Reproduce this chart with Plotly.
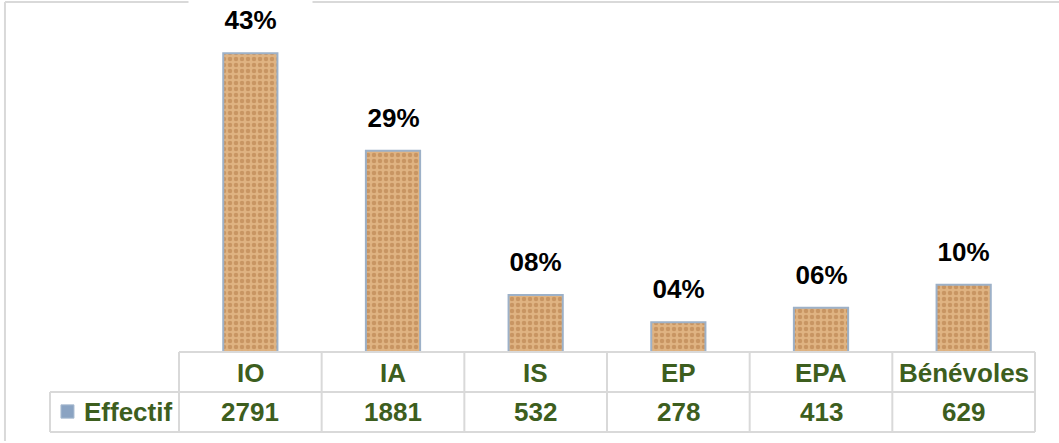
import plotly.graph_objects as go

categories = ["IO", "IA", "IS", "EP", "EPA", "Bénévoles"]
effectif = [2791, 1881, 532, 278, 413, 629]
pct_labels = ["43%", "29%", "08%", "04%", "06%", "10%"]
series_name = "Effectif"

GREEN = "#3D5E1E"
GRID = "#D9D9D9"
FONT = "Liberation Sans, Arial, sans-serif"

fig = go.Figure()

fig.add_trace(go.Bar(
    x=categories,
    y=effectif,
    name=series_name,
    marker=dict(
        color="#DCAE7C",
        line=dict(color="#9DB1C8", width=2),
        pattern=dict(shape=".", fgcolor="#B27743", bgcolor="#DFB382",
                     size=6, solidity=0.45),
    ),
    hovertemplate="%{x}: %{y}<extra></extra>",
))

# percentage labels above the bars
for cat, val, lab in zip(categories, effectif, pct_labels):
    fig.add_annotation(
        x=cat, y=val, text=f"<b>{lab}</b>", showarrow=False,
        yanchor="middle", yshift=33, width=121, height=40,
        bgcolor="white", font=dict(family=FONT, size=26, color="black"),
    )

# data table under the plot
n = len(categories)
row_top, row_mid, row_bot = 0.0, -0.1143, -0.2286
label_left = -0.1507
shapes = []
line = dict(color=GRID, width=2)
shapes.append(dict(type="line", xref="paper", yref="paper", x0=0, x1=1, y0=row_top, y1=row_top, line=line))
shapes.append(dict(type="line", xref="paper", yref="paper", x0=label_left, x1=1, y0=row_mid, y1=row_mid, line=line))
shapes.append(dict(type="line", xref="paper", yref="paper", x0=label_left, x1=1, y0=row_bot, y1=row_bot, line=line))
shapes.append(dict(type="line", xref="paper", yref="paper", x0=label_left, x1=label_left, y0=row_mid, y1=row_bot, line=line))
for i in range(n + 1):
    shapes.append(dict(type="line", xref="paper", yref="paper", x0=i / n, x1=i / n,
                       y0=row_top, y1=row_bot, line=line))
# legend key
shapes.append(dict(type="rect", xref="paper", yref="paper", x0=-0.1379, x1=-0.1227,
                   y0=-0.189, y1=-0.151, fillcolor="#8AA3C2", line=dict(color="#A9BBD0", width=1)))
# chart border
shapes.append(dict(type="line", xref="paper", yref="paper", x0=-0.2033, x1=1.03, y0=1.0, y1=1.0,
                   line=dict(color=GRID, width=2), layer="below"))
shapes.append(dict(type="line", xref="paper", yref="paper", x0=-0.2033, x1=-0.2033, y0=1.0, y1=-0.254,
                   line=dict(color=GRID, width=2), layer="below"))

for cat, val in zip(categories, effectif):
    fig.add_annotation(x=cat, y=-0.06, yref="paper", yanchor="middle", xanchor="center",
                       text=f"<b>{cat}</b>", showarrow=False,
                       font=dict(family=FONT, size=26, color=GREEN))
    fig.add_annotation(x=cat, y=-0.171, yref="paper", yanchor="middle", xanchor="center",
                       text=f"<b>{val}</b>", showarrow=False,
                       font=dict(family=FONT, size=26, color=GREEN))
fig.add_annotation(x=-0.006, xref="paper", xanchor="right", y=-0.171, yref="paper",
                   yanchor="middle", text=f"<b>{series_name}</b>", showarrow=False,
                   font=dict(family=FONT, size=26, color=GREEN))

fig.update_layout(
    width=1059, height=443,
    margin=dict(l=179, r=24, t=2, b=91),
    paper_bgcolor="white", plot_bgcolor="white",
    showlegend=False,
    bargap=0.62,
    shapes=shapes,
    xaxis=dict(visible=False),
    yaxis=dict(visible=False, range=[0, 3270]),
)

# the page body has a default 8px margin; remove it so the figure sits at the window corner
fig.write_html("out.html", config={"displayModeBar": False},
               post_script="document.body.style.margin='0';")
